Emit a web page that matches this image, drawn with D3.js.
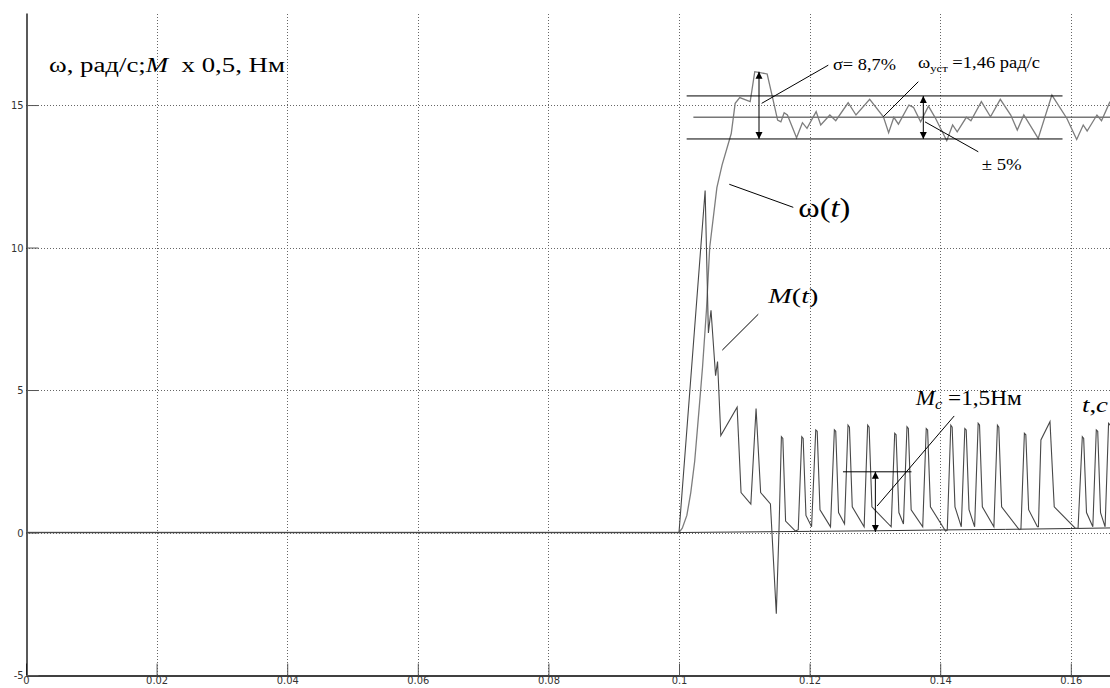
<!DOCTYPE html>
<html>
<head>
<meta charset="utf-8">
<script src="https://cdn.jsdelivr.net/npm/d3@7"></script>
<style>
  body { margin: 0; background: #fff; }
  svg { display: block; }
</style>
</head>
<body>
<svg id="chart"></svg>
<script>
const width = 1110;
const height = 688;

// ---------------- data ----------------
const xTicks = [0, 0.02, 0.04, 0.06, 0.08, 0.1, 0.12, 0.14, 0.16];
const xTickLabels = ["0", "0.02", "0.04", "0.06", "0.08", "0.1", "0.12", "0.14", "0.16"];
const yTicks = [-5, 0, 5, 10, 15];
const yTickLabels = ["-5", "0", "5", "10", "15"];

// omega(t), rad/s  [t, value]
const omegaData = [
  [0, 0], [0.1, 0], [0.1005, 0.15], [0.1012, 0.6], [0.1018, 1.4], [0.1024, 2.5], [0.1031, 4.4],
  [0.1036, 5.8], [0.1042, 7.8], [0.1047, 10.0], [0.1058, 12.1], [0.1066, 12.9], [0.1080, 14.0],
  [0.1086, 15.06], [0.1093, 15.26], [0.1109, 15.12], [0.1116, 16.17], [0.1135, 16.09], [0.1143, 15.29],
  [0.1151, 14.47], [0.1156, 14.41], [0.1161, 14.73], [0.1166, 14.65], [0.1180, 13.85], [0.1189, 14.38],
  [0.1196, 14.18], [0.1210, 14.77], [0.1217, 14.30], [0.1231, 14.65], [0.1240, 14.45], [0.1259, 15.08],
  [0.1271, 14.65], [0.1292, 15.20], [0.1313, 14.59], [0.1321, 14.03], [0.1329, 14.57], [0.1336, 14.33],
  [0.1352, 15.0], [0.1359, 14.92], [0.1370, 14.41], [0.1382, 14.96], [0.1392, 14.57], [0.1410, 13.75],
  [0.1419, 14.30], [0.1426, 14.06], [0.1440, 14.57], [0.1447, 14.45], [0.1463, 15.12], [0.1477, 14.59],
  [0.1492, 15.20], [0.1508, 14.65], [0.1518, 14.12], [0.1528, 14.65], [0.1550, 13.83], [0.1571, 15.35],
  [0.1594, 14.53], [0.1609, 13.79], [0.1619, 14.30], [0.1625, 14.09], [0.1640, 14.65], [0.1647, 14.45],
  [0.1660, 15.12]
];

// M(t) x 0.5, N*m  [t, value]
const torqueData = [
  [0, 0], [0.1, 0], [0.1040, 12.0], [0.1045, 7.0], [0.1049, 7.8], [0.1056, 5.5], [0.1059, 6.0],
  [0.1064, 3.4], [0.1089, 4.4], [0.1095, 1.4], [0.1110, 1.0], [0.1118, 4.35], [0.1125, 1.4],
  [0.1140, 1.0], [0.1149, -2.85], [0.1153, 0.0],
  [0.11568, 3.36], [0.1159, 3.3], [0.11632, 0.4], [0.11783, 0.05],
  [0.11826, 0.1], [0.1188, 3.36], [0.11901, 3.3], [0.11944, 0.6], [0.1203, 0.2],
  [0.12094, 3.6], [0.12116, 3.55], [0.12159, 0.8], [0.1232, 0.2],
  [0.12379, 3.6], [0.124, 3.55], [0.12443, 0.7], [0.12535, 0.3],
  [0.12588, 3.77], [0.1261, 3.7], [0.12653, 0.9], [0.12835, 0.2],
  [0.12889, 3.77], [0.12911, 3.7], [0.12954, 0.9], [0.13249, 0.2],
  [0.13303, 3.48], [0.13324, 3.43], [0.13367, 0.7], [0.13437, 0.3],
  [0.13491, 3.71], [0.13512, 3.65], [0.13555, 0.8], [0.13732, 0.2],
  [0.13786, 3.65], [0.13807, 3.6], [0.1385, 0.9], [0.14081, 0.05], [0.14108, 0.08],
  [0.14162, 3.77], [0.14183, 3.7], [0.14226, 0.9], [0.14323, 0.2],
  [0.14377, 3.65], [0.14398, 3.6], [0.14441, 0.8], [0.14527, 0.2],
  [0.14581, 3.83], [0.14602, 3.77], [0.14645, 0.9], [0.14822, 0.2],
  [0.14876, 3.77], [0.14897, 3.7], [0.1494, 0.9], [0.15209, 0.1], [0.15236, 0.12],
  [0.15289, 3.48], [0.15311, 3.43], [0.15354, 0.8], [0.15488, 0.2], [0.15504, 0.2],
  [0.15542, 3.25], [0.15681, 3.89], [0.15746, 0.9], [0.16068, 0.15], [0.16111, 0.15],
  [0.16176, 3.36], [0.16197, 3.3], [0.1624, 0.7], [0.16337, 0.2],
  [0.1639, 3.6], [0.16412, 3.55], [0.16455, 0.7], [0.16525, 0.2],
  [0.16578, 3.83], [0.1663, 3.7]
];

// slow line near zero
const baseData = [
  [0.1, 0], [0.11, 0.02], [0.12, 0.04], [0.13, 0.06], [0.14, 0.09], [0.15, 0.11], [0.16, 0.14], [0.166, 0.16]
];

// +-5% band around steady speed
const bandLevels = [15.32, 14.57, 13.81];

// ---------------- scales ----------------
const x = d3.scaleLinear([0, 0.166], [26, 1110]);
const y = d3.scaleLinear([-5, 18.23], [675, 13]);

const svg = d3.select("#chart")
  .attr("width", width)
  .attr("height", height)
  .attr("viewBox", [0, 0, width, height])
  .style("font-family", "'Liberation Serif', 'Times New Roman', serif");

svg.append("rect").attr("width", width).attr("height", height).attr("fill", "#fff");

const defs = svg.append("defs");
defs.append("clipPath").attr("id", "plot")
  .append("rect")
  .attr("x", x(0)).attr("y", y(18.23))
  .attr("width", x(0.166) - x(0)).attr("height", y(-5) - y(18.23));

defs.append("marker")
  .attr("id", "arrow")
  .attr("viewBox", "0 0 10 10")
  .attr("refX", 10).attr("refY", 5)
  .attr("markerWidth", 7).attr("markerHeight", 8)
  .attr("markerUnits", "userSpaceOnUse")
  .attr("orient", "auto-start-reverse")
  .append("path")
  .attr("d", "M0,0L10,5L0,10Z")
  .attr("fill", "#000");

// dotted grid
const grid = svg.append("g")
  .attr("stroke", "#666")
  .attr("stroke-width", 1)
  .attr("stroke-dasharray", "1,2");

grid.selectAll("line.v")
  .data(xTicks.filter(d => d > 0))
  .join("line")
  .attr("class", "v")
  .attr("x1", d => Math.round(x(d)) + 0.5).attr("x2", d => Math.round(x(d)) + 0.5)
  .attr("y1", y(-5)).attr("y2", y(18.23));

grid.selectAll("line.h")
  .data(yTicks.filter(d => d > -5))
  .join("line")
  .attr("class", "h")
  .attr("x1", x(0)).attr("x2", x(0.166))
  .attr("y1", d => Math.round(y(d)) + 0.5).attr("y2", d => Math.round(y(d)) + 0.5);

// axes
const xAxis = d3.axisBottom(x)
  .tickValues(xTicks)
  .tickFormat((d, i) => xTickLabels[i])
  .tickSizeInner(-12)
  .tickSizeOuter(0)
  .tickPadding(1);

const yAxis = d3.axisLeft(y)
  .tickValues(yTicks)
  .tickFormat((d, i) => yTickLabels[i])
  .tickSizeInner(-12)
  .tickSizeOuter(0)
  .tickPadding(3);

const gx = svg.append("g")
  .attr("transform", `translate(0,${Math.round(y(-5)) + 0.5})`)
  .call(xAxis);
const gy = svg.append("g")
  .attr("transform", `translate(${Math.round(x(0)) + 0.5},0)`)
  .call(yAxis);

[gx, gy].forEach(g => {
  g.select(".domain").attr("stroke", "#000").attr("stroke-width", 1.3);
  g.selectAll(".tick line").attr("stroke", "#555");
  g.selectAll(".tick text")
    .attr("fill", "#333")
    .style("font-family", "'Liberation Sans Narrow', 'DejaVu Sans Condensed', 'Arial Narrow', sans-serif")
    .style("font-size", "11px");
});

// curves
const line = d3.line().x(d => x(d[0])).y(d => y(d[1]));
const curves = svg.append("g").attr("clip-path", "url(#plot)").attr("fill", "none");

curves.append("path").datum(baseData)
  .attr("d", line).attr("stroke", "#333").attr("stroke-width", 1);

curves.append("path").datum(omegaData)
  .attr("d", line).attr("stroke", "#7d7d7d").attr("stroke-width", 1.3);

curves.append("path").datum(torqueData)
  .attr("d", line).attr("stroke", "#484848").attr("stroke-width", 1.1);

// ---------------- annotations (data coordinates) ----------------
const ann = svg.append("g").attr("clip-path", "url(#plot)").attr("stroke", "#000").attr("stroke-width", 1);

// band lines
ann.selectAll("line.band")
  .data(bandLevels)
  .join("line")
  .attr("class", "band")
  .attr("x1", (d, i) => x(i === 1 ? 0.1022 : 0.10117))
  .attr("x2", (d, i) => x(i === 1 ? 0.166 : 0.15873))
  .attr("y1", d => y(d)).attr("y2", d => y(d))
  .attr("stroke", (d, i) => i === 1 ? "#777" : "#000")
  .attr("stroke-width", (d, i) => i === 1 ? 1.6 : 1);

// M_c level line
ann.append("line")
  .attr("x1", x(0.12511)).attr("x2", x(0.1356))
  .attr("y1", y(2.13)).attr("y2", y(2.13));

// double arrows
const arrows = [
  [0.11225, 16.17, 13.81],
  [0.13741, 15.32, 13.81],
  [0.13007, 2.13, 0.02]
];
ann.selectAll("line.arr")
  .data(arrows)
  .join("line")
  .attr("class", "arr")
  .attr("x1", d => x(d[0])).attr("x2", d => x(d[0]))
  .attr("y1", d => y(d[1])).attr("y2", d => y(d[2]))
  .attr("marker-start", "url(#arrow)")
  .attr("marker-end", "url(#arrow)");

// leader lines
const leaders = [
  [0.11266, 15.06, 0.12286, 16.40],
  [0.13665, 15.82, 0.13129, 14.59],
  [0.13767, 14.41, 0.14583, 13.36],
  [0.1077, 12.22, 0.1175, 11.41],
  [0.11214, 7.66, 0.10663, 6.40],
  [0.14214, 4.09, 0.13034, 0.93]
];
ann.selectAll("line.lead")
  .data(leaders)
  .join("line")
  .attr("class", "lead")
  .attr("x1", d => x(d[0])).attr("y1", d => y(d[1]))
  .attr("x2", d => x(d[2])).attr("y2", d => y(d[3]));

// text labels
const labels = svg.append("g").attr("fill", "#000");

function label(t, v, size, len, parts) {
  const txt = labels.append("text")
    .attr("x", x(t)).attr("y", y(v))
    .style("font-size", size + "px")
    .attr("textLength", len)
    .attr("lengthAdjust", "spacingAndGlyphs");
  parts.forEach(p => {
    const s = txt.append("tspan").text(p.text);
    if (p.italic) s.style("font-style", "italic");
    if (p.size) s.style("font-size", p.size + "px");
    if (p.dy) s.attr("dy", p.dy);
  });
  return txt;
}

label(0.00352, 16.16, 20, 236, [
  {text: "ω, рад/с;"}, {text: "M", italic: true}, {text: "\u00a0 x 0,5, Нм"}
]);
label(0.12358, 16.23, 16, 63, [{text: "σ= 8,7%"}]);
label(0.1366, 16.30, 16, 122, [
  {text: "ω"}, {text: "уст", size: 11, dy: 4}, {text: " =1,46 рад/с", dy: -4}
]);
label(0.14635, 12.72, 16, 40, [{text: "± 5%"}]);
label(0.11827, 11.08, 27, 52, [
  {text: "ω("}, {text: "t", italic: true}, {text: ")"}
]);
label(0.11368, 8.05, 22, 50, [
  {text: "M", italic: true}, {text: "("}, {text: "t", italic: true}, {text: ")"}
]);
label(0.13625, 4.47, 20, 106, [
  {text: "M", italic: true}, {text: "c", italic: true, size: 14, dy: 4}, {text: " =1,5Нм", dy: -4}
]);
label(0.16171, 4.24, 22, 26, [
  {text: "t", italic: true}, {text: ","}, {text: "c", italic: true}
]);
</script>
</body>
</html>
